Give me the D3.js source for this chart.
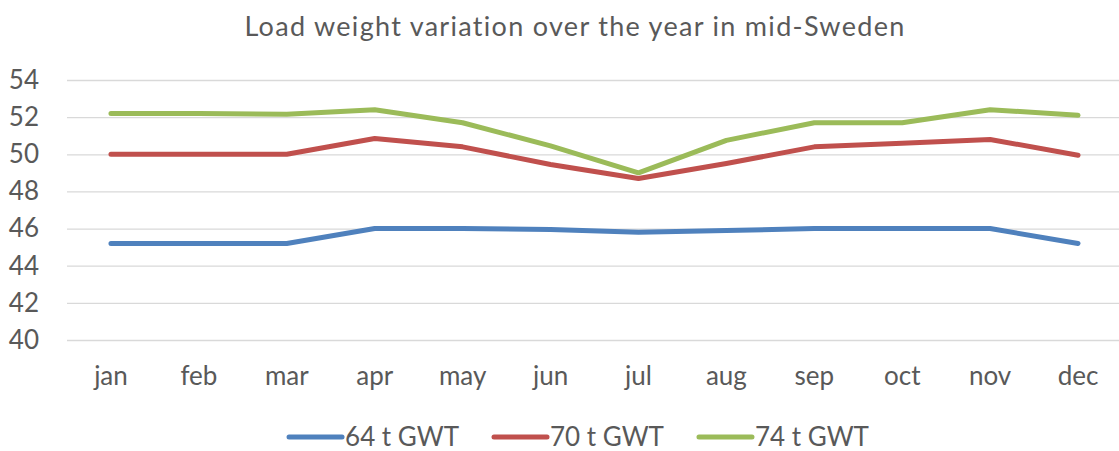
<!DOCTYPE html>
<html>
<head>
<meta charset="utf-8">
<script src="https://cdn.jsdelivr.net/npm/d3@7"></script>
<style>
  body { margin: 0; background: #fff; }
  svg { display: block; font-family: Lato, sans-serif; }
</style>
</head>
<body>
<svg id="chart" width="1119" height="451"></svg>
<script>
const months = ["jan","feb","mar","apr","may","jun","jul","aug","sep","oct","nov","dec"];
const gwt64 = [45.2, 45.2, 45.2, 46.0, 46.0, 45.95, 45.8, 45.9, 46.0, 46.0, 46.0, 45.2];
const gwt70 = [50.0, 50.0, 50.0, 50.85, 50.4, 49.45, 48.7, 49.5, 50.4, 50.6, 50.8, 49.95];
const gwt74 = [52.2, 52.2, 52.15, 52.4, 51.7, 50.45, 49.0, 50.75, 51.7, 51.7, 52.4, 52.1];
const seriesNames = ["64 t GWT", "70 t GWT", "74 t GWT"];
const yTicks = [40, 42, 44, 46, 48, 50, 52, 54];

const colors = ["#4F81BD", "#C0504D", "#9BBB59"];
const textColor = "#595959";
const fontSize = 26;
const width = 1119, height = 451;
const margin = {top: 80, right: -3, bottom: 111, left: 67};

const svg = d3.select("#chart");

const xScale = d3.scaleBand(months, [margin.left, width - margin.right]);
const yScale = d3.scaleLinear([40, 54], [height - margin.bottom, margin.top]);

// title
svg.append("text")
  .attr("x", 575).attr("y", 36)
  .attr("text-anchor", "middle")
  .attr("font-size", 27)
  .attr("letter-spacing", 1.3)
  .attr("fill", textColor)
  .text("Load weight variation over the year in mid-Sweden");

// gridlines + y labels
const yAxis = d3.axisLeft(yScale).tickValues(yTicks).tickSize(0).tickPadding(28);
svg.append("g")
  .attr("transform", `translate(${margin.left},0)`)
  .call(yAxis)
  .attr("font-family", "Lato, sans-serif")
  .call(g => g.select(".domain").remove())
  .call(g => g.selectAll(".tick text")
      .attr("font-size", fontSize).attr("fill", textColor))
  .call(g => g.selectAll(".tick line").clone()
      .attr("stroke", "#D9D9D9").attr("stroke-width", 1.3)
      .attr("x2", width - margin.left));

// x labels
const xAxis = d3.axisBottom(xScale).tickSize(0).tickPadding(27);
svg.append("g")
  .attr("transform", `translate(0,${height - margin.bottom})`)
  .call(xAxis)
  .attr("font-family", "Lato, sans-serif")
  .call(g => g.select(".domain").remove())
  .call(g => g.selectAll(".tick text")
      .attr("font-size", fontSize).attr("fill", textColor));

// lines
const line = d3.line()
  .x((d, i) => xScale(months[i]) + xScale.bandwidth() / 2)
  .y(d => yScale(d));

[gwt64, gwt70, gwt74].forEach((s, k) => {
  svg.append("path")
    .datum(s)
    .attr("fill", "none")
    .attr("stroke", colors[k])
    .attr("stroke-width", 5)
    .attr("stroke-linejoin", "round")
    .attr("stroke-linecap", "round")
    .attr("d", line);
});

// legend
const legend = svg.append("g");
let lx = 0;
seriesNames.forEach((name, k) => {
  const item = legend.append("g").attr("transform", `translate(${lx},0)`);
  item.append("line")
    .attr("x1", 2).attr("x2", 55)
    .attr("stroke", colors[k]).attr("stroke-width", 5).attr("stroke-linecap", "round");
  const t = item.append("text")
    .attr("x", 58).attr("dy", "0.35em")
    .attr("font-size", fontSize).attr("fill", textColor)
    .text(name);
  lx += 58 + t.node().getComputedTextLength() + 33;
});
const legendW = lx - 33;
legend.attr("transform", `translate(${578 - legendW / 2},437)`);
</script>
</body>
</html>
